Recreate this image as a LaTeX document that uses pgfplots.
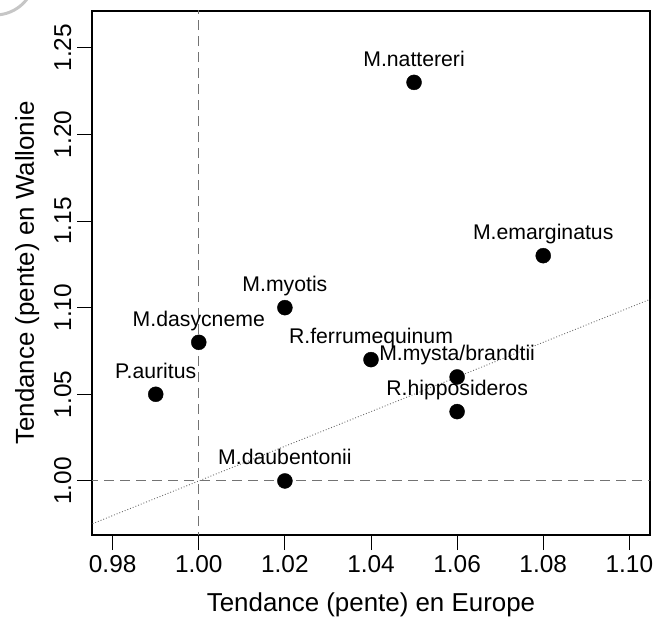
\documentclass[border=0pt]{standalone}
\usepackage{pgfplots}
\pgfplotsset{compat=1.18}
\usepackage{fontspec}
\setmainfont{Liberation Sans}
\begin{document}
\begin{tikzpicture}
\path[use as bounding box] (-92bp,-84bp) rectangle (576bp,535bp);
\begin{scope}
\clip (-92bp,-84bp) rectangle (576bp,535bp);
\draw[gray!45, line width=3bp] (-97bp,560bp) circle[radius=40bp];
\end{scope}
\begin{axis}[
  at={(0,0)}, anchor=south west,
  scale only axis, width=558bp, height=524bp,
  xmin=0.9752, xmax=1.1048, ymin=0.9688, ymax=1.2712,
  axis line style={line width=1.1pt},
  xtick={0.98,1.00,1.02,1.04,1.06,1.08,1.10},
  ytick={1.00,1.05,1.10,1.15,1.20,1.25},
  tick align=outside, tick pos=left,
  major tick length=15bp,
  tick style={line width=1pt, black},
  /pgf/number format/.cd, fixed, fixed zerofill, precision=2, assume math mode=true,
  /pgfplots/.cd,
  ticklabel style={font=\fontsize{24.5}{28}\selectfont},
  xticklabel style={yshift=-2bp},
  yticklabel style={rotate=90, anchor=south, yshift=2bp},
  xlabel={Tendance (pente) en Europe},
  ylabel={Tendance (pente) en Wallonie},
  label style={font=\fontsize{26}{30}\selectfont},
  xlabel style={yshift=-13bp},
  ylabel style={yshift=8bp},
  clip=true,
]
\addplot[gray!80!black, dotted, line width=0.9pt] coordinates {(0.9,0.9) (1.2,1.2)};
\addplot[gray!90!black, dash pattern=on 10bp off 6bp, line width=1.1pt] coordinates {(1,0.9) (1,1.3)};
\addplot[gray!90!black, dash pattern=on 10bp off 6bp, line width=1.1pt] coordinates {(0.9,1) (1.2,1)};
\addplot[only marks, mark=*, mark size=7.5bp, black,
  nodes near coords, point meta=explicit symbolic,
  nodes near coords style={anchor=base, inner sep=0pt, yshift=16bp, black,
    font=\fontsize{21.3}{24}\selectfont}]
  table[meta=label] {
x y label
1.05 1.23 M.nattereri
1.08 1.13 M.emarginatus
1.02 1.10 M.myotis
1.00 1.08 M.dasycneme
1.04 1.07 R.ferrumequinum
1.06 1.06 M.mysta/brandtii
0.99 1.05 P.auritus
1.06 1.04 R.hipposideros
1.02 1.00 M.daubentonii
};
\end{axis}
\end{tikzpicture}
\end{document}
